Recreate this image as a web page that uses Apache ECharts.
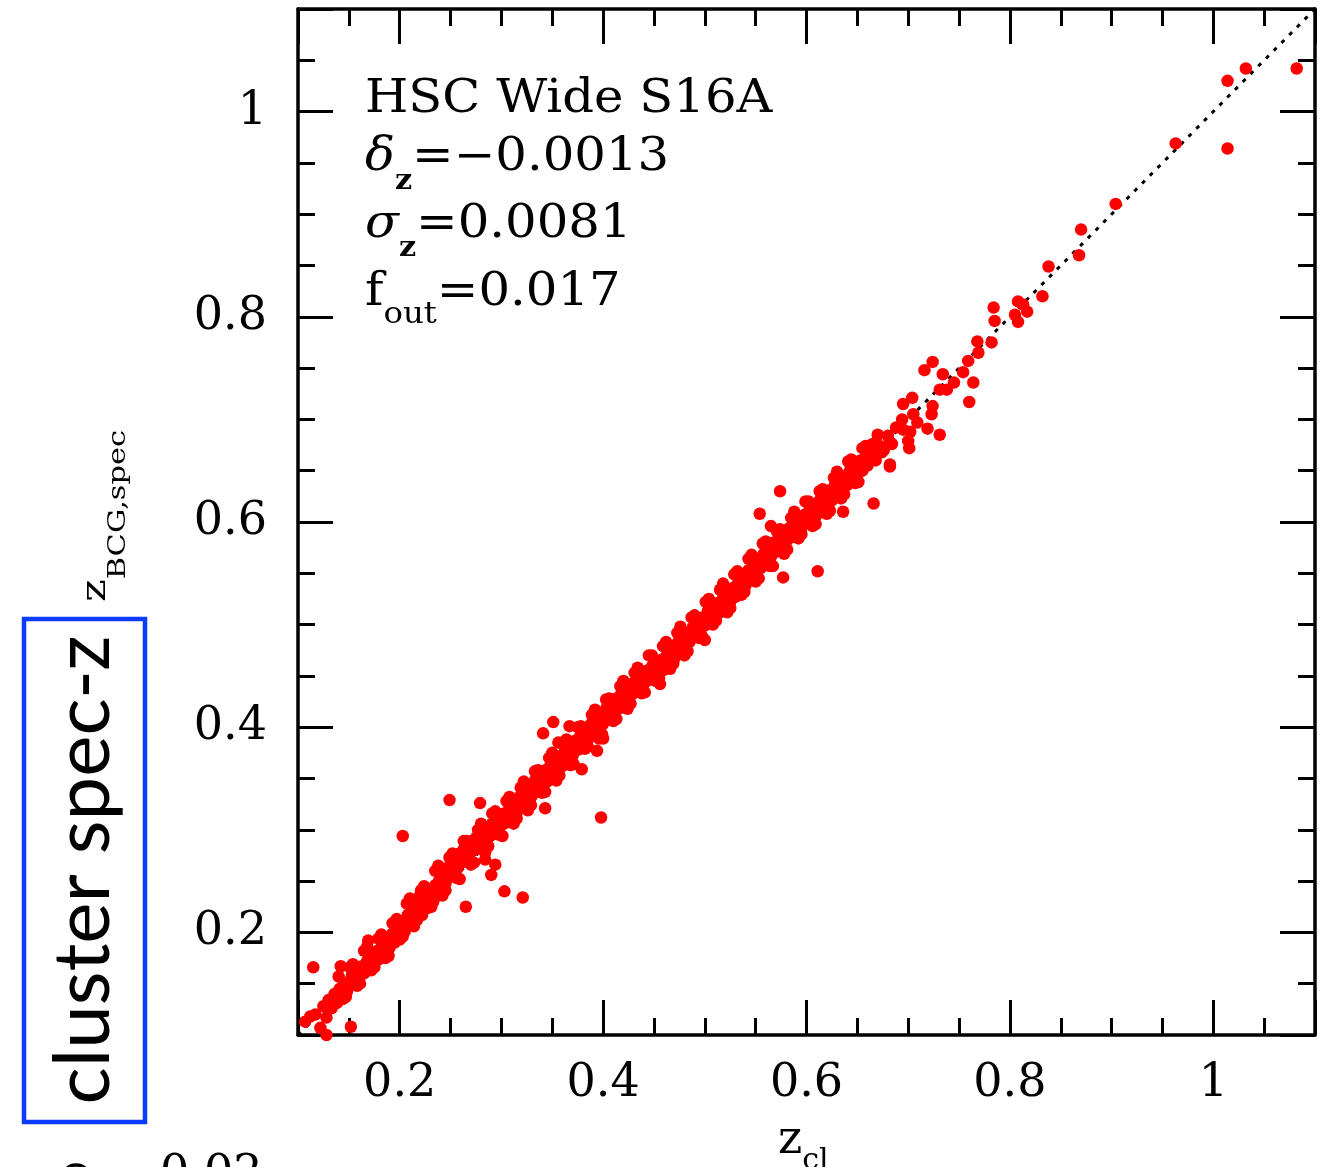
<!DOCTYPE html>
<html>
<head>
<meta charset="utf-8">
<script src="https://cdn.jsdelivr.net/npm/echarts@6/dist/echarts.min.js"></script>
<style>
html, body { margin: 0; padding: 0; background: #fff; }
#main { width: 1324px; height: 1167px; }
</style>
</head>
<body>
<div id="main"></div>
<script>
// [z_cl, z_BCG,spec] pairs
// low-z end of the relation
var lowEnd = [
    [0.107, 0.113], [0.112, 0.118], [0.117, 0.120], [0.122, 0.107], [0.125, 0.128],
    [0.128, 0.117], [0.128, 0.100]
];
// dense band 0.13 - 0.30
var bandA = [
    [0.130, 0.134], [0.133, 0.126], [0.136, 0.140], [0.138, 0.131], [0.141, 0.145], [0.143, 0.137],
    [0.146, 0.151], [0.148, 0.142], [0.151, 0.148], [0.153, 0.158], [0.156, 0.151], [0.158, 0.163],
    [0.160, 0.155], [0.163, 0.167], [0.165, 0.160], [0.168, 0.172], [0.170, 0.164], [0.173, 0.177],
    [0.175, 0.169], [0.178, 0.182], [0.180, 0.174], [0.183, 0.188], [0.185, 0.180], [0.188, 0.193],
    [0.190, 0.185], [0.193, 0.199], [0.195, 0.190], [0.197, 0.213], [0.198, 0.203], [0.200, 0.195],
    [0.203, 0.211], [0.205, 0.201], [0.208, 0.217], [0.210, 0.207], [0.213, 0.222], [0.215, 0.211],
    [0.218, 0.227], [0.220, 0.236], [0.222, 0.217], [0.224, 0.231], [0.226, 0.240], [0.228, 0.224],
    [0.230, 0.236], [0.233, 0.230], [0.235, 0.246], [0.237, 0.236], [0.239, 0.251], [0.241, 0.242],
    [0.243, 0.257], [0.245, 0.248], [0.247, 0.263], [0.249, 0.254], [0.251, 0.268], [0.253, 0.258],
    [0.255, 0.271], [0.257, 0.263], [0.259, 0.277], [0.261, 0.268], [0.263, 0.281], [0.265, 0.272],
    [0.267, 0.285], [0.269, 0.277], [0.271, 0.289], [0.273, 0.280], [0.275, 0.292], [0.277, 0.284],
    [0.279, 0.296], [0.281, 0.288], [0.283, 0.299], [0.285, 0.291], [0.287, 0.302], [0.289, 0.294],
    [0.291, 0.306], [0.293, 0.297], [0.295, 0.310], [0.297, 0.301], [0.299, 0.315], [0.301, 0.305]
];
// dense band 0.30 - 0.45
var bandB = [
    [0.303, 0.316], [0.305, 0.307], [0.308, 0.322], [0.310, 0.312], [0.313, 0.327], [0.315, 0.317],
    [0.318, 0.332], [0.320, 0.322], [0.323, 0.338], [0.325, 0.328], [0.328, 0.343], [0.330, 0.333],
    [0.333, 0.348], [0.335, 0.338], [0.338, 0.353], [0.340, 0.342], [0.343, 0.358], [0.345, 0.347],
    [0.348, 0.362], [0.350, 0.353], [0.353, 0.368], [0.355, 0.357], [0.358, 0.372], [0.360, 0.362],
    [0.363, 0.378], [0.365, 0.367], [0.368, 0.383], [0.370, 0.372], [0.373, 0.387], [0.375, 0.378],
    [0.378, 0.393], [0.380, 0.382], [0.383, 0.398], [0.385, 0.388], [0.388, 0.403], [0.390, 0.393],
    [0.393, 0.408], [0.395, 0.398], [0.398, 0.413], [0.400, 0.403], [0.403, 0.418], [0.405, 0.408],
    [0.408, 0.423], [0.410, 0.413], [0.413, 0.428], [0.415, 0.418], [0.418, 0.433], [0.420, 0.423],
    [0.423, 0.437], [0.425, 0.428], [0.428, 0.442], [0.430, 0.433], [0.433, 0.447], [0.435, 0.437],
    [0.438, 0.451], [0.440, 0.442], [0.443, 0.455], [0.445, 0.446], [0.448, 0.459], [0.450, 0.450]
];
// dense band 0.45 - 0.60
var bandC = [
    [0.453, 0.460], [0.455, 0.451], [0.458, 0.466], [0.460, 0.456], [0.463, 0.471], [0.465, 0.462],
    [0.468, 0.476], [0.470, 0.467], [0.473, 0.482], [0.475, 0.472], [0.478, 0.487], [0.480, 0.477],
    [0.483, 0.492], [0.485, 0.483], [0.488, 0.497], [0.490, 0.488], [0.493, 0.503], [0.495, 0.494],
    [0.498, 0.507], [0.500, 0.499], [0.503, 0.513], [0.505, 0.504], [0.508, 0.517], [0.510, 0.509],
    [0.513, 0.521], [0.515, 0.512], [0.518, 0.526], [0.520, 0.517], [0.523, 0.530], [0.525, 0.522],
    [0.528, 0.536], [0.530, 0.527], [0.533, 0.541], [0.535, 0.533], [0.538, 0.548], [0.540, 0.538],
    [0.543, 0.553], [0.545, 0.544], [0.548, 0.559], [0.550, 0.549], [0.553, 0.564], [0.555, 0.555],
    [0.558, 0.569], [0.560, 0.560], [0.563, 0.575], [0.565, 0.566], [0.568, 0.580], [0.570, 0.571],
    [0.573, 0.585], [0.575, 0.576], [0.578, 0.590], [0.580, 0.581], [0.583, 0.594], [0.585, 0.585],
    [0.588, 0.599], [0.590, 0.590], [0.593, 0.603], [0.595, 0.594], [0.598, 0.607], [0.600, 0.599]
];
// band 0.60 - 0.69
var bandD = [
    [0.603, 0.612], [0.605, 0.602], [0.608, 0.617], [0.610, 0.607], [0.613, 0.621], [0.615, 0.612],
    [0.618, 0.626], [0.620, 0.617], [0.623, 0.631], [0.625, 0.621], [0.628, 0.636], [0.630, 0.626],
    [0.633, 0.640], [0.635, 0.631], [0.638, 0.645], [0.640, 0.636], [0.643, 0.651], [0.645, 0.641],
    [0.648, 0.655], [0.650, 0.646], [0.653, 0.660], [0.655, 0.650], [0.658, 0.663], [0.660, 0.655],
    [0.664, 0.668], [0.668, 0.660], [0.672, 0.674], [0.676, 0.670], [0.680, 0.684], [0.684, 0.676],
    [0.688, 0.692]
];
// scatter on both sides of the band
var spreadA = [
    [0.140, 0.157], [0.147, 0.137], [0.154, 0.169], [0.161, 0.150], [0.168, 0.186], [0.175, 0.166],
    [0.182, 0.198], [0.189, 0.177], [0.196, 0.211], [0.203, 0.196], [0.210, 0.233], [0.217, 0.212],
    [0.224, 0.245], [0.231, 0.225], [0.238, 0.265], [0.245, 0.241], [0.252, 0.277], [0.259, 0.252],
    [0.266, 0.289], [0.273, 0.268], [0.280, 0.306], [0.287, 0.284], [0.294, 0.318], [0.301, 0.294],
    [0.308, 0.332], [0.315, 0.311], [0.322, 0.347], [0.329, 0.324], [0.336, 0.358], [0.343, 0.337],
    [0.350, 0.375], [0.357, 0.353], [0.364, 0.388], [0.371, 0.364], [0.378, 0.401], [0.385, 0.381],
    [0.392, 0.417], [0.399, 0.393], [0.406, 0.428], [0.413, 0.408], [0.420, 0.445], [0.427, 0.423],
    [0.434, 0.458], [0.441, 0.434], [0.448, 0.470], [0.455, 0.447], [0.462, 0.483], [0.469, 0.462],
    [0.476, 0.498], [0.483, 0.474], [0.490, 0.509], [0.497, 0.489], [0.504, 0.525], [0.511, 0.504],
    [0.518, 0.540], [0.525, 0.516], [0.532, 0.552], [0.539, 0.532], [0.546, 0.568], [0.553, 0.545],
    [0.560, 0.581], [0.567, 0.557], [0.574, 0.593], [0.581, 0.573], [0.588, 0.610], [0.595, 0.588],
    [0.602, 0.620], [0.609, 0.598], [0.616, 0.632], [0.623, 0.611], [0.630, 0.649], [0.637, 0.627],
    [0.644, 0.661], [0.651, 0.639], [0.658, 0.674]
];
var spreadB = [
    [0.144, 0.135], [0.151, 0.166], [0.158, 0.148], [0.165, 0.182], [0.172, 0.163], [0.179, 0.194],
    [0.186, 0.175], [0.193, 0.209], [0.200, 0.193], [0.207, 0.228], [0.214, 0.206], [0.221, 0.241],
    [0.228, 0.225], [0.235, 0.260], [0.242, 0.236], [0.249, 0.273], [0.256, 0.253], [0.263, 0.289],
    [0.270, 0.266], [0.277, 0.300], [0.284, 0.278], [0.291, 0.316], [0.298, 0.295], [0.305, 0.328],
    [0.312, 0.306], [0.319, 0.341], [0.326, 0.319], [0.333, 0.357], [0.340, 0.336], [0.347, 0.370],
    [0.354, 0.348], [0.361, 0.383], [0.368, 0.363], [0.375, 0.400], [0.382, 0.379], [0.389, 0.412],
    [0.396, 0.389], [0.403, 0.427], [0.410, 0.406], [0.417, 0.440], [0.424, 0.418], [0.431, 0.453],
    [0.438, 0.433], [0.445, 0.470], [0.452, 0.445], [0.459, 0.479], [0.466, 0.457], [0.473, 0.492],
    [0.480, 0.470], [0.487, 0.507], [0.494, 0.487], [0.501, 0.522], [0.508, 0.500], [0.515, 0.534],
    [0.522, 0.512], [0.529, 0.549], [0.536, 0.529], [0.543, 0.564], [0.550, 0.542], [0.557, 0.579],
    [0.564, 0.557], [0.571, 0.591], [0.578, 0.569], [0.585, 0.604], [0.592, 0.584], [0.599, 0.620],
    [0.606, 0.596], [0.613, 0.630], [0.620, 0.608], [0.627, 0.643], [0.634, 0.623], [0.641, 0.659],
    [0.648, 0.638], [0.655, 0.672]
];
// sparse high-z part
var highEnd = [
    [0.662, 0.661], [0.674, 0.668], [0.682, 0.656], [0.665, 0.676], [0.670, 0.685], [0.682, 0.678],
    [0.700, 0.679], [0.701, 0.672], [0.695, 0.690], [0.702, 0.688], [0.719, 0.691], [0.731, 0.685],
    [0.694, 0.700], [0.709, 0.697], [0.705, 0.705], [0.724, 0.713], [0.723, 0.705], [0.704, 0.721],
    [0.695, 0.715], [0.731, 0.729], [0.738, 0.729], [0.745, 0.736], [0.734, 0.744], [0.716, 0.748],
    [0.724, 0.756], [0.764, 0.736], [0.760, 0.717], [0.754, 0.746], [0.759, 0.757], [0.769, 0.765],
    [0.768, 0.776], [0.782, 0.775], [0.785, 0.796], [0.784, 0.809], [0.805, 0.802], [0.808, 0.795],
    [0.808, 0.815], [0.817, 0.805], [0.813, 0.812], [0.832, 0.820], [0.838, 0.849], [0.868, 0.860],
    [0.870, 0.885], [0.904, 0.910], [0.963, 0.969], [1.014, 0.964], [1.014, 1.030], [1.032, 1.042],
    [1.082, 1.042]
];
// points off the band
var outliers = [
    [0.115, 0.166], [0.142, 0.167], [0.169, 0.192], [0.152, 0.108], [0.203, 0.294], [0.249, 0.329],
    [0.279, 0.326], [0.398, 0.312], [0.321, 0.234], [0.303, 0.240], [0.265, 0.225], [0.290, 0.256],
    [0.294, 0.266], [0.284, 0.271], [0.343, 0.321], [0.351, 0.405], [0.367, 0.401], [0.341, 0.394],
    [0.356, 0.385], [0.400, 0.389], [0.394, 0.377], [0.379, 0.359], [0.456, 0.442], [0.500, 0.485],
    [0.577, 0.546], [0.574, 0.630], [0.554, 0.608], [0.565, 0.596], [0.611, 0.552], [0.636, 0.610],
    [0.666, 0.618], [0.682, 0.654]
];
// one-to-one reference line
var oneToOne = [[0.1, 0.1], [1.1, 1.1]];

var axisMin = 0.1;
var axisMax = 1.1;
var serif = '"DejaVu Serif", "Liberation Serif", serif';

var chart = echarts.init(document.getElementById('main'));

// only label every 0.2
var tickLabel = function (v) {
    var k = v / 0.2;
    if (Math.abs(k - Math.round(k)) > 1e-6) return '';
    return String(Math.round(v * 10) / 10);
};

var makeAxis = function (pos, minor, withLabel, isY) {
    var ax = {
        type: 'value',
        min: axisMin,
        max: axisMax,
        position: pos,
        axisLine: { show: !minor, onZero: false, lineStyle: { color: '#000', width: 3.5 } },
        axisTick: { show: true, inside: true, length: minor ? 17 : 35, lineStyle: { color: '#000', width: 3 } },
        axisLabel: {
            show: withLabel,
            formatter: tickLabel,
            margin: isY ? 31 : 26,
            fontFamily: serif,
            fontSize: 46,
            color: '#000'
        },
        splitLine: { show: false }
    };
    if (minor) {
        ax.interval = 0.05;
    } else {
        ax.splitNumber = 5;
    }
    return ax;
};

var allPts = [].concat(lowEnd, bandA, bandB, bandC, bandD, spreadA, spreadB, highEnd, outliers);

var infoLine = function (txt, y) {
    var rich = {
        n: { fontFamily: serif, fontSize: 46, fill: '#000' },
        i: { fontFamily: serif, fontSize: 46, fontStyle: 'italic', fill: '#000' },
        b: { fontFamily: serif, fontSize: 28, fontWeight: 'bold', fill: '#000', padding: [48, 0, 0, 0] },
        o: { fontFamily: serif, fontSize: 30, fill: '#000', padding: [45, 0, 0, 0] }
    };
    return {
        type: 'text',
        x: 365,
        y: y,
        scaleX: 1.08,
        z: 10,
        style: {
            text: txt,
            rich: rich,
            align: 'left',
            verticalAlign: 'middle',
            fill: '#000'
        }
    };
};

var option = {
    animation: false,
    backgroundColor: '#fff',
    grid: { left: 298, top: 9, width: 1017, height: 1026, containLabel: false },
    xAxis: [
        makeAxis('bottom', false, true, false),
        makeAxis('bottom', true, false, false),
        makeAxis('top', false, false, false),
        makeAxis('top', true, false, false)
    ],
    yAxis: [
        makeAxis('left', false, true, true),
        makeAxis('left', true, false, true),
        makeAxis('right', false, false, true),
        makeAxis('right', true, false, true)
    ],
    series: [
        {
            type: 'line',
            data: oneToOne,
            symbol: 'none',
            silent: true,
            z: 1,
            lineStyle: { color: '#000', width: 3, type: [4, 7] }
        },
        {
            type: 'scatter',
            data: allPts,
            symbol: 'circle',
            symbolSize: 12.5,
            z: 2,
            itemStyle: { color: '#ff0000', opacity: 1 }
        }
    ],
    graphic: [
        infoLine('{n|HSC Wide S16A}', 100),
        infoLine('{i|δ}{b|z}{n|=−0.0013}', 158),
        infoLine('{i|σ}{b|z}{n|=0.0081}', 225),
        infoLine('{n|f}{o|out}{n|=0.017}', 293),
        {
            // y axis title
            type: 'text',
            x: 96,
            y: 516,
            rotation: Math.PI / 2,
            scaleX: 1.27,
            style: {
                text: '{z|z}{s|BCG,spec}',
                rich: {
                    z: { fontFamily: serif, fontSize: 34, fill: '#000' },
                    s: { fontFamily: serif, fontSize: 24, fill: '#000', padding: [45, 0, 0, 0] }
                },
                align: 'center',
                verticalAlign: 'middle'
            }
        },
        {
            type: 'rect',
            shape: { x: 24, y: 619, width: 121, height: 503 },
            style: { fill: 'none', stroke: '#0a3cff', lineWidth: 4.5 }
        },
        {
            type: 'text',
            x: 84,
            y: 870,
            rotation: Math.PI / 2,
            style: {
                text: 'cluster spec-z',
                fontFamily: 'Lato, "DejaVu Sans", sans-serif',
                fontSize: 78,
                fill: '#000',
                align: 'center',
                verticalAlign: 'middle'
            }
        },
        {
            // x axis title, cut by the bottom edge
            type: 'text',
            x: 778,
            y: 1141,
            style: {
                text: '{z|z}{s|cl}',
                rich: {
                    z: { fontFamily: serif, fontSize: 46, fill: '#000' },
                    s: { fontFamily: serif, fontSize: 30, fill: '#000', padding: [40, 0, 0, 0] }
                },
                align: 'left',
                verticalAlign: 'middle'
            }
        },
        {
            type: 'text',
            x: 56,
            y: 1182,
            style: { text: '⊙', fontFamily: '"DejaVu Sans", sans-serif', fontSize: 48, fill: '#000', align: 'left', verticalAlign: 'middle' }
        },
        {
            type: 'text',
            x: 160,
            y: 1175,
            style: { text: '0.02', fontFamily: serif, fontSize: 46, fill: '#000', align: 'left', verticalAlign: 'middle' }
        }
    ]
};

chart.setOption(option);
</script>
</body>
</html>
